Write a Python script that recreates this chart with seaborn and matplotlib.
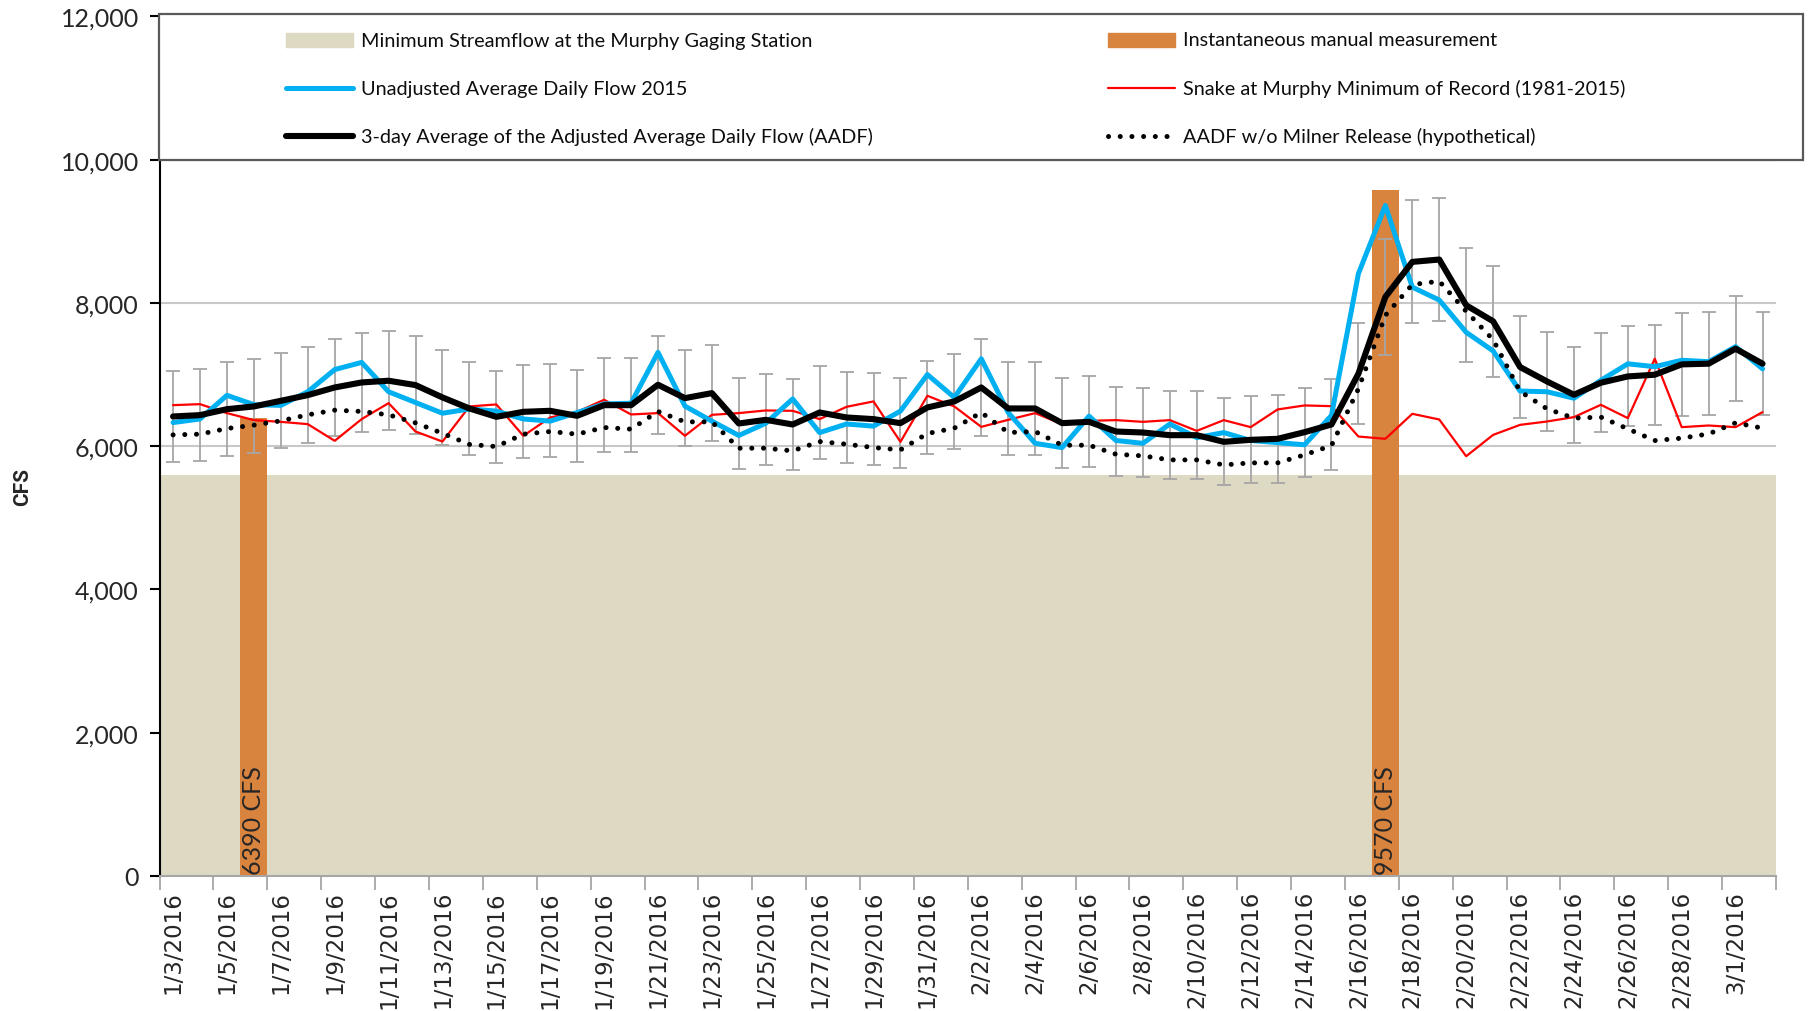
import numpy as np
import pandas as pd
import matplotlib
matplotlib.use("Agg")
import matplotlib.pyplot as plt
import seaborn as sns
from matplotlib.lines import Line2D
from matplotlib.patches import Rectangle
from matplotlib.ticker import FuncFormatter, FixedLocator

# daily categories, 1/3/2016 .. 3/2/2016
dates = pd.date_range("2016-01-03", "2016-03-02", freq="D")
date_labels = [f"{d.month}/{d.day}/{d.year}" for d in dates]

# values (cfs)
unadjusted = [6330, 6380, 6710, 6580, 6570, 6760, 7070, 7170, 6760, 6610,
              6460, 6520, 6490, 6380, 6350, 6470, 6590, 6600, 7310, 6560,
              6350, 6150, 6320, 6660, 6190, 6310, 6280, 6490, 7000, 6680,
              7220, 6470, 6040, 5980, 6420, 6080, 6040, 6310, 6120, 6190,
              6080, 6050, 6020, 6430, 8410, 9360, 8220, 8040, 7590, 7330,
              6770, 6760, 6670, 6920, 7150, 7110, 7200, 7180, 7390, 7080]
aadf_3day = [6415, 6434, 6517, 6555, 6634, 6713, 6820, 6890, 6914, 6853,
             6681, 6527, 6410, 6480, 6494, 6424, 6573, 6573, 6858, 6671,
             6741, 6317, 6368, 6303, 6471, 6401, 6378, 6322, 6541, 6625,
             6820, 6527, 6527, 6322, 6340, 6205, 6191, 6154, 6154, 6061,
             6089, 6103, 6196, 6303, 7012, 8084, 8573, 8606, 7967, 7744,
             7105, 6904, 6718, 6886, 6974, 6998, 7142, 7152, 7361, 7152]
min_record = [6573, 6587, 6462, 6364, 6340, 6308, 6075, 6378, 6601, 6205,
              6065, 6555, 6583, 6145, 6401, 6480, 6648, 6443, 6462, 6145,
              6438, 6462, 6499, 6494, 6378, 6550, 6625, 6061, 6704, 6555,
              6270, 6368, 6462, 6308, 6354, 6364, 6340, 6364, 6214, 6364,
              6266, 6513, 6569, 6559, 6135, 6103, 6452, 6373, 5860, 6158,
              6298, 6345, 6406, 6578, 6392, 7221, 6266, 6289, 6266, 6476]
no_milner = [6158, 6168, 6247, 6294, 6354, 6438, 6503, 6485, 6438, 6326,
             6180, 6025, 5995, 6168, 6205, 6168, 6261, 6238, 6485, 6340,
             6340, 5972, 5972, 5935, 6065, 6028, 5981, 5949, 6177, 6252,
             6471, 6191, 6205, 6014, 6014, 5888, 5865, 5809, 5809, 5739,
             5767, 5767, 5879, 6009, 6802, 7827, 8256, 8303, 7883, 7487,
             6765, 6522, 6392, 6406, 6242, 6079, 6112, 6172, 6326, 6252]
min_streamflow = 5600
manual_dates = ["1/6/2016", "2/17/2016"]
manual_cfs = [6390, 9570]
err_pct = 0.10  # percentage error bars on the 3-day average

BEIGE = "#ddd9c3"
ORANGE = "#d9843e"
BLUE = "#00b0f0"
RED = "#ff0000"
GREY = "#a6a6a6"
DOTS = (0, (0.01, 2.33))

sns.set_style("white")
plt.rcParams["font.family"] = ["Lato", "DejaVu Sans"]

day_idx = np.arange(len(dates))
manual_idx = [date_labels.index(d) for d in manual_dates]

W, H = 1814, 1012
fig = plt.figure(figsize=(W / 100, H / 100), dpi=100)
ax = fig.add_axes([159.6 / W, 1 - 877 / H, (1776 - 159.6) / W, (877 - 17.4) / H])

# minimum streamflow band and manual measurement bars
ax.bar(day_idx, [min_streamflow] * len(day_idx), width=1.0, color=BEIGE, linewidth=0, zorder=1)
ax.bar(manual_idx, manual_cfs, width=1.0, color=ORANGE, linewidth=0, zorder=1.5)
for i, v in zip(manual_idx, manual_cfs):
    ax.text(i, 30, f"{v} CFS", rotation=90, ha="center", va="bottom",
            fontsize=18, color="#262626", zorder=6)

# error bars on the 3-day average
ax.errorbar(day_idx, aadf_3day, yerr=np.array(aadf_3day) * err_pct, fmt="none",
            ecolor=GREY, elinewidth=1.3, capsize=5, capthick=1.3, zorder=2)

sns.lineplot(x=day_idx, y=min_record, color=RED, linewidth=1.6, ax=ax, zorder=3)
sns.lineplot(x=day_idx, y=unadjusted, color=BLUE, linewidth=3.6, ax=ax, zorder=3.2)
sns.lineplot(x=day_idx, y=no_milner, color="black", linewidth=3.6, linestyle=DOTS,
             dash_capstyle="round", ax=ax, zorder=3.4)
sns.lineplot(x=day_idx, y=aadf_3day, color="black", linewidth=4.4, ax=ax, zorder=3.6)

ax.set_xlim(-0.5, len(day_idx) - 0.5)
ax.set_ylim(0, 12000)
ax.set_xlabel("")
ax.set_ylabel("")

# ticks between categories, labels on every other day
ax.xaxis.set_major_locator(FixedLocator(np.arange(-0.5, len(day_idx), 2)))
ax.xaxis.set_major_formatter(FuncFormatter(lambda x, p: ""))
ax.set_xticks(day_idx[::2], date_labels[::2], minor=True)
ax.tick_params(axis="x", which="major", length=10, width=1.3, color=GREY, bottom=True)
ax.tick_params(axis="x", which="minor", length=0, pad=10, labelsize=16.5, labelrotation=90)
for lab in ax.get_xticklabels(minor=True):
    lab.set_family("DejaVu Sans")

ax.set_yticks(range(0, 12001, 2000))
ax.yaxis.set_major_formatter(FuncFormatter(lambda v, p: f"{int(v):,}"))
ax.tick_params(axis="y", length=7, width=1.5, color="black", left=True, pad=8, labelsize=18)

ax.yaxis.grid(True, color="#c8c8c8", linewidth=1.5, zorder=0.5)
ax.xaxis.grid(False)
ax.set_axisbelow(True)
for s in ["top", "right"]:
    ax.spines[s].set_visible(False)
ax.spines["left"].set_color("black")
ax.spines["left"].set_linewidth(1.5)
ax.spines["bottom"].set_color(GREY)
ax.spines["bottom"].set_linewidth(1.5)

fig.text(23 / W, 1 - 487 / H, "CFS", rotation=90, ha="center", va="center",
         fontsize=15, fontweight="bold", family=["Roboto", "DejaVu Sans"])

# legend box across the top of the plot
def fx(px):
    return px / W

def fy(py):
    return 1 - py / H

fig.add_artist(Rectangle((fx(158.5), fy(160.7)), fx(1803) - fx(158.5), (160.7 - 15) / H,
                         transform=fig.transFigure, facecolor="white",
                         edgecolor="#595959", linewidth=1.6, zorder=5))

legend_items = [
    (286, 41, "patch", BEIGE, "Minimum Streamflow at the Murphy Gaging Station"),
    (286, 89, "line", dict(color=BLUE, lw=3.6), "Unadjusted Average Daily Flow 2015"),
    (286, 137, "line", dict(color="black", lw=4.4), "3-day Average of the Adjusted Average Daily Flow (AADF)"),
    (1108, 41, "patch", ORANGE, "Instantaneous manual measurement"),
    (1108, 89, "line", dict(color=RED, lw=1.6), "Snake at Murphy Minimum of Record (1981-2015)"),
    (1108, 137, "line", dict(color="black", lw=3.6, ls=DOTS, dash_capstyle="round"),
     "AADF w/o Milner Release (hypothetical)"),
]
for x0, y0, kind, style, label in legend_items:
    if kind == "patch":
        fig.add_artist(Rectangle((fx(x0), fy(y0 + 7)), fx(x0 + 67) - fx(x0), 14 / H,
                                 transform=fig.transFigure, color=style, zorder=6))
    else:
        fig.add_artist(Line2D([fx(x0), fx(x0 + 67)], [fy(y0), fy(y0)],
                              transform=fig.transFigure, zorder=6, **style))
    fig.text(fx(x0 + 75), fy(y0), label, ha="left", va="center", fontsize=14.3,
             color="#0d0d0d", zorder=7)

fig.savefig("out.png", dpi=100)
